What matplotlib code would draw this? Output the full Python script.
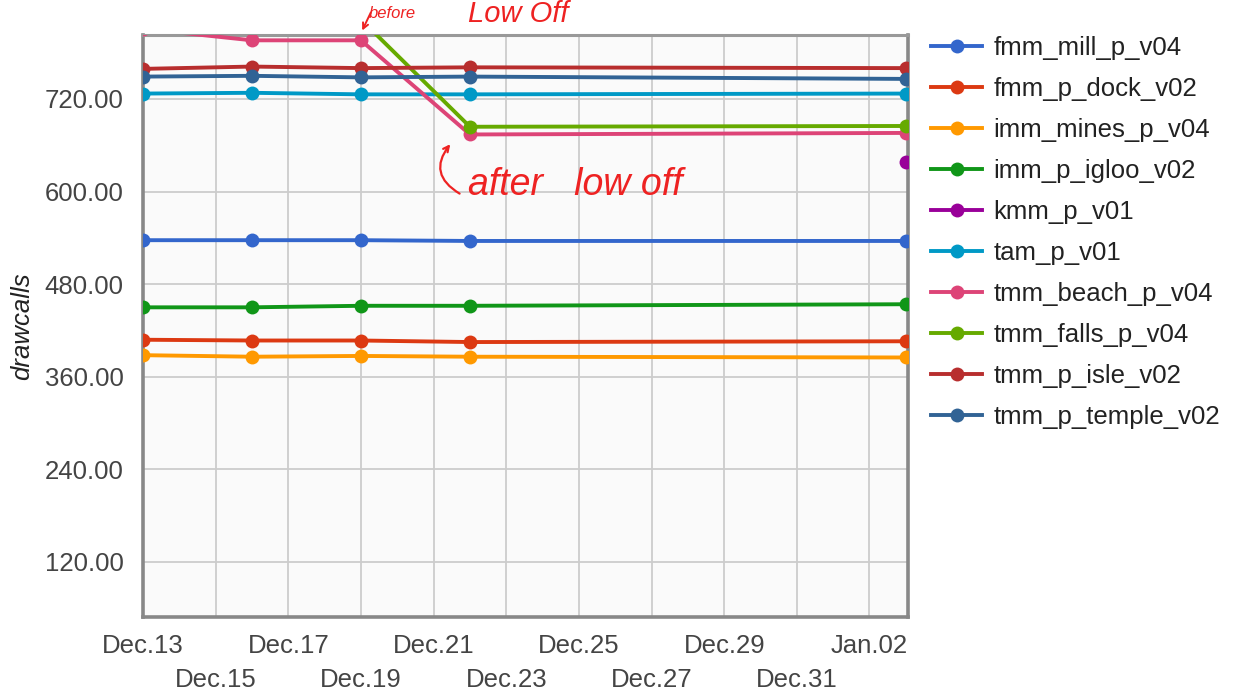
import datetime as dt
import numpy as np
import matplotlib
matplotlib.use("Agg")
import matplotlib.pyplot as plt
import matplotlib.dates as mdates
from matplotlib.ticker import FixedLocator, FormatStrFormatter

# ---------------- data ----------------
dates = ["2012-12-13", "2012-12-16", "2012-12-19", "2012-12-22", "2013-01-03"]

fmm_mill_p_v04    = [537, 537, 537, 536, 536]
fmm_p_dock_v02    = [408, 407, 407, 405, 406]
imm_mines_p_v04   = [388, 386, 387, 386, 385]
imm_p_igloo_v02   = [450, 450, 452, 452, 454]
kmm_p_v01         = [np.nan, np.nan, np.nan, np.nan, 638]
tam_p_v01         = [727, 728, 726, 726, 727]
tmm_beach_p_v04   = [811, 796, 796, 674, 676]
tmm_falls_p_v04   = [824, 824, 823, 684, 685]
tmm_p_isle_v02    = [759, 762, 760, 761, 760]
tmm_p_temple_v02  = [749, 750, 748, 749, 746]

series_names = ["fmm_mill_p_v04", "fmm_p_dock_v02", "imm_mines_p_v04",
                "imm_p_igloo_v02", "kmm_p_v01", "tam_p_v01",
                "tmm_beach_p_v04", "tmm_falls_p_v04", "tmm_p_isle_v02",
                "tmm_p_temple_v02"]
series_values = [fmm_mill_p_v04, fmm_p_dock_v02, imm_mines_p_v04,
                 imm_p_igloo_v02, kmm_p_v01, tam_p_v01, tmm_beach_p_v04,
                 tmm_falls_p_v04, tmm_p_isle_v02, tmm_p_temple_v02]
colors = ["#3366cc", "#dc3912", "#ff9900", "#109618", "#990099",
          "#0099c6", "#dd4477", "#66aa00", "#b82e2e", "#316395"]

y_ticks = [120, 240, 360, 480, 600, 720]
x_major_dates = ["2012-12-13", "2012-12-17", "2012-12-21", "2012-12-25",
                 "2012-12-29", "2013-01-02"]
x_major_labels = ["Dec.13", "Dec.17", "Dec.21", "Dec.25", "Dec.29", "Jan.02"]
x_minor_dates = ["2012-12-15", "2012-12-19", "2012-12-23", "2012-12-27",
                 "2012-12-31"]
x_minor_labels = ["Dec.15", "Dec.19", "Dec.23", "Dec.27", "Dec.31"]

# ---------------- figure ----------------
plt.rcParams["font.family"] = ["Liberation Sans", "DejaVu Sans"]
FS = 18.5
W, H = 1238, 696
fig = plt.figure(figsize=(W / 100, H / 100), dpi=100)
ax = fig.add_axes([143 / W, 1 - 617 / H, 765 / W, 582 / H])
ax.set_facecolor("#fafafa")

to_num = lambda ds: [mdates.date2num(dt.datetime.strptime(d, "%Y-%m-%d")) for d in ds]
x = to_num(dates)

handles = []
for name, vals, c in zip(series_names, series_values, colors):
    h, = ax.plot(x, vals, color=c, lw=2.8, marker="o", ms=10,
                 markeredgewidth=0, label=name, zorder=3)
    handles.append(h)

x0 = to_num(["2012-12-13"])[0]
x1 = to_num(["2013-01-03"])[0]
ax.set_xlim(x0, x1 + 0.06)
ax.set_ylim(48.7, 802.9)

ax.yaxis.set_major_locator(FixedLocator(y_ticks))
ax.yaxis.set_major_formatter(FormatStrFormatter("%.2f"))
ax.xaxis.set_major_locator(FixedLocator(to_num(x_major_dates)))
ax.xaxis.set_minor_locator(FixedLocator(to_num(x_minor_dates)))
ax.set_xticklabels(x_major_labels)
ax.set_xticklabels(x_minor_labels, minor=True)

ax.tick_params(axis="both", which="both", length=0, colors="#444444",
               labelsize=FS)
ax.tick_params(axis="y", pad=14)
ax.tick_params(axis="x", which="major", pad=12)
ax.tick_params(axis="x", which="minor", pad=37)

ax.grid(True, which="both", color="#cccccc", lw=1.3, zorder=0)
ax.set_axisbelow(True)
for s in ax.spines.values():
    s.set_color("#999999")
    s.set_linewidth(2.2)
for s in ("left", "right", "bottom"):
    ax.spines[s].set_color("#888888")
    ax.spines[s].set_linewidth(2.6)

ax.set_ylabel("drawcalls", fontsize=FS, style="italic", color="#222222")
ax.yaxis.set_label_coords(-0.142, 0.50)

leg = fig.legend(handles=handles, loc="upper left",
                 bbox_to_anchor=(931 / W, 1 - 36 / H), frameon=False,
                 fontsize=FS, handlelength=2.0, handletextpad=0.42,
                 labelspacing=0.66, borderpad=0, borderaxespad=0)
for t in leg.get_texts():
    t.set_color("#222222")

# ---------------- hand-written annotations ----------------
red = "#ee2222"
fig.text(369 / W, 1 - 14 / H, "before", color=red, fontsize=12,
         va="center", ha="left", style="italic")
fig.text(468 / W, 1 - 14 / H, "Low Off", color=red, fontsize=21,
         va="center", ha="left", style="italic")
fig.text(468 / W, 1 - 185 / H, "after   low off", color=red, fontsize=27,
         va="center", ha="left", style="italic")
ax.annotate("", xy=(361 / W, 1 - 33 / H), xycoords="figure fraction",
            xytext=(372 / W, 1 - 10 / H), textcoords="figure fraction",
            arrowprops=dict(arrowstyle="->", color=red, lw=1.4))
ax.annotate("", xy=(452 / W, 1 - 142 / H), xycoords="figure fraction",
            xytext=(462 / W, 1 - 195 / H), textcoords="figure fraction",
            arrowprops=dict(arrowstyle="->", color=red, lw=1.6,
                            connectionstyle="arc3,rad=-0.6"))

fig.savefig("out.png", dpi=100)
